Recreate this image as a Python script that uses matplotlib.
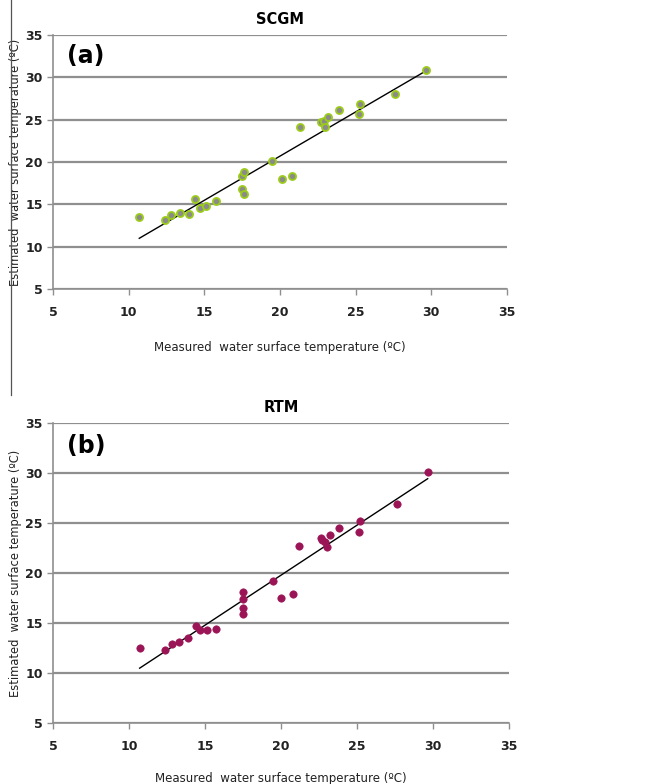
import numpy as np
import matplotlib
matplotlib.use("Agg")
import matplotlib.pyplot as plt
from matplotlib.lines import Line2D

# Panel (a) SCGM
scgm_measured = [10.7, 12.4, 12.8, 13.4, 14.0, 14.4, 14.7, 15.1, 15.8, 17.5, 17.6, 17.5, 17.6,
                 19.5, 20.1, 20.8, 21.3, 22.7, 22.9, 23.0, 23.2, 23.9, 25.2, 25.3, 27.6, 29.65]
scgm_estimated = [13.5, 13.1, 13.7, 14.0, 13.8, 15.6, 14.6, 14.8, 15.4, 18.3, 18.8, 16.8, 16.2,
                  20.1, 18.0, 18.3, 24.1, 24.7, 24.9, 24.1, 25.3, 26.2, 25.7, 26.9, 28.0, 30.9]

# Panel (b) RTM
rtm_measured = [10.7, 12.4, 12.8, 13.3, 13.9, 14.4, 14.7, 15.1, 15.7, 17.5, 17.5, 17.5, 17.5,
                19.5, 20.0, 20.8, 21.2, 22.6, 22.7, 22.9, 23.0, 23.2, 23.8, 25.1, 25.2, 27.6, 29.65]
rtm_estimated = [12.5, 12.3, 12.9, 13.1, 13.5, 14.7, 14.3, 14.3, 14.4, 18.1, 17.4, 16.5, 15.9,
                 19.2, 17.5, 17.9, 22.7, 23.5, 23.3, 23.1, 22.6, 23.8, 24.5, 24.1, 25.2, 26.9, 30.15]

ticks = [5, 10, 15, 20, 25, 30, 35]

fig = plt.figure(figsize=(6.62, 7.84), dpi=100)
W, H = 662, 784

def add_axes(left, right, top, bottom):
    return fig.add_axes([left / W, 1 - bottom / H, (right - left) / W, (bottom - top) / H])

ax_a = add_axes(53, 507, 35, 289)
ax_b = add_axes(53, 509, 423, 723)

panels = [
    (ax_a, scgm_measured, scgm_estimated, "SCGM", "(a)",
     dict(facecolor="#8a8a8a", edgecolor="#9ccc1a", linewidths=1.3, s=26), 16),
    (ax_b, rtm_measured, rtm_estimated, "RTM", "(b)",
     dict(facecolor="#9b1456", edgecolor="#9b1456", linewidths=0.5, s=28), 14),
]

for ax, xm, ye, title, tag, mstyle, xpad in panels:
    ax.set_xlim(5, 35)
    ax.set_ylim(5, 35)
    ax.set_xticks(ticks)
    ax.set_yticks(ticks)
    ax.yaxis.grid(True, color="#8f8f8f", linewidth=1.6)
    ax.set_axisbelow(True)
    for s in ["top", "right"]:
        ax.spines[s].set_visible(False)
    for s in ["left", "bottom"]:
        ax.spines[s].set_color("#8f8f8f")
        ax.spines[s].set_linewidth(1.2)
    ax.tick_params(axis="both", colors="#8f8f8f", length=4, width=1.0,
                   labelcolor="#222222", labelsize=9)
    for lab in ax.get_xticklabels() + ax.get_yticklabels():
        lab.set_fontweight("bold")
    ax.tick_params(axis="x", pad=8)

    # linear trend line
    slope, intercept = np.polyfit(xm, ye, 1)
    xs = np.array([min(xm), max(xm)])
    ax.plot(xs, slope * xs + intercept, color="black", linewidth=1.0, zorder=2)
    ax.scatter(xm, ye, zorder=3, **mstyle)

    ax.set_title(title, fontsize=10.5, fontweight="bold", pad=8)
    ax.text(0.03, 0.965, tag, transform=ax.transAxes, fontsize=17, fontweight="bold",
            va="top", ha="left")
    ax.set_xlabel("Measured  water surface temperature (ºC)", fontsize=8.5,
                  color="#222222", labelpad=xpad)
    ax.set_ylabel("Estimated  water surface temperature (ºC)", fontsize=8.3,
                  color="#222222")
    ax.yaxis.set_label_coords(-0.068, 0.5)

# thin border line at the left of the top panel
fig.add_artist(Line2D([11 / W, 11 / W], [1, 1 - 395 / H], color="#555555", linewidth=0.9))

fig.savefig("out.png", dpi=100)
